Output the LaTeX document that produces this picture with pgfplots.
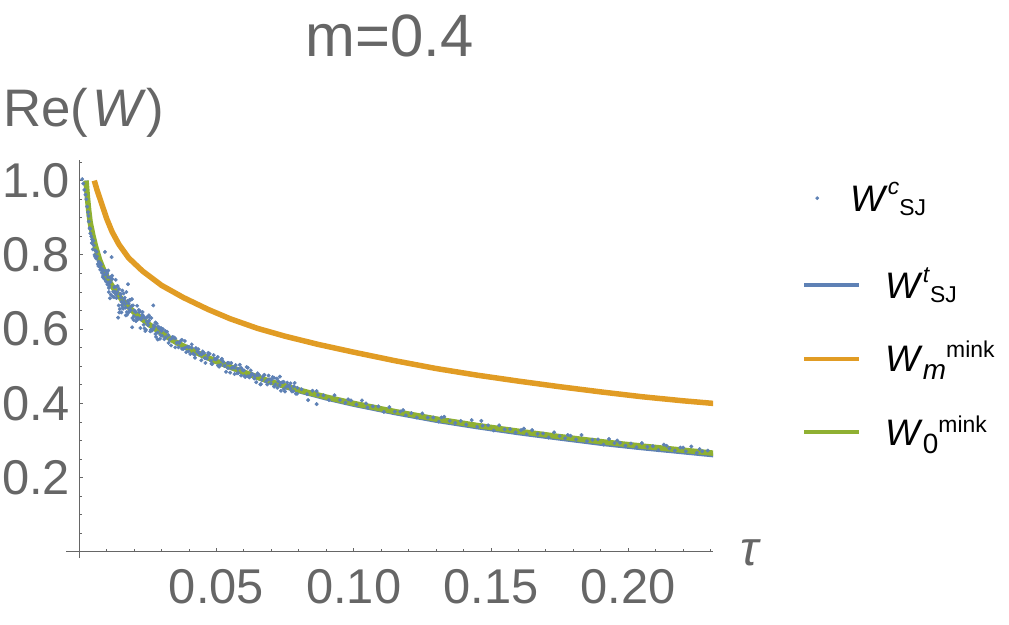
\documentclass[border=0pt]{standalone}
\usepackage{fontspec}
\setmainfont{Liberation Sans}
\usepackage{pgfplots}
\pgfplotsset{compat=1.18}
\definecolor{wblue}{RGB}{94,129,181}
\definecolor{worange}{RGB}{225,156,36}
\definecolor{wgreen}{RGB}{143,176,50}
\definecolor{labgray}{RGB}{102,102,102}
\newcommand{\rsc}[3]{\raisebox{#1}{\fontsize{#2}{#2}\selectfont #3}}
\pgfplotsset{
  lineleg/.style={legend image code/.code={\draw[##1, line width=4bp] (0bp,0bp) -- (55bp,0bp);}},
  dotleg/.style={legend image code/.code={\fill[wblue] (13bp,6.75bp) circle (1.7bp);}},
}
\begin{document}
\begin{tikzpicture}
\path[use as bounding box] (0,0) rectangle (1009bp,625bp);
\begin{axis}[
  at={(66bp,67bp)}, anchor=south west,
  scale only axis, width=647bp, height=398bp,
  xmin=-0.0048, xmax=0.2309, ymin=-0.0164, ymax=1.0556,
  axis lines=middle,
  axis line style={-, draw=labgray, line width=0.9bp},
  xtick={0.05,0.1,0.15,0.2}, xticklabels={0.05,0.10,0.15,0.20},
  ytick={0.2,0.4,0.6,0.8,1.0}, yticklabels={0.2,0.4,0.6,0.8,1.0},
  minor xtick={0.01,0.02,0.03,0.04,0.06,0.07,0.08,0.09,0.11,0.12,0.13,0.14,0.16,0.17,0.18,0.19,0.21,0.22,0.23},
  minor ytick={0.05,0.1,0.15,0.25,0.3,0.35,0.45,0.5,0.55,0.65,0.7,0.75,0.85,0.9,0.95,1.05},
  tick align=inside,
  major tick length=4bp, minor tick length=2.5bp,
  tick style={draw=labgray, line width=0.8bp},
  ticklabel style={font=\fontsize{49}{49}\selectfont, text=labgray, inner sep=0pt},
  xticklabel style={anchor=north, yshift=-17bp},
  yticklabel style={anchor=east, xshift=-9bp},
  title={m=0.4},
  title style={at={(axis description cs:0.5,1.246)}, anchor=base, font=\fontsize{60}{60}\selectfont, text=labgray, inner sep=0pt},
  ylabel={Re(\hspace{4bp}\textit{W})},
  ylabel style={at={(axis description cs:-0.0974,1.083)}, anchor=base west, rotate=0, font=\fontsize{53}{53}\selectfont, text=labgray, inner sep=0pt},
  xlabel={\textit{τ}},
  xlabel style={at={(axis description cs:1.0587,-0.02)}, anchor=base, font=\fontsize{49}{49}\selectfont, text=labgray, inner sep=0pt},
  legend cell align=left,
  legend style={at={(axis description cs:1.1376,0.9849)}, anchor=north west, draw=none, fill=none, inner sep=0pt,
    row sep=9.5bp, column sep=24bp, nodes={inner sep=0pt, text depth=, text height=}, font=\fontsize{37}{40}\selectfont},
  every axis plot/.append style={line join=round},
]
% W^c_SJ : numerical data
\addplot[color=wblue, only marks, mark=*, mark size=1.8bp, mark options={draw=none, fill=wblue}, dotleg] coordinates {
(0.0011,1.004)(0.0015,0.992)(0.0019,0.975)(0.0023,0.962)(0.0026,0.950)(0.0029,0.930)(0.0032,0.915)(0.0035,0.890)(0.0038,0.872)(0.0041,0.858)(0.0044,0.850)(0.0047,0.842)(0.0050,0.815)(0.0053,0.826)(0.0056,0.800)(0.0059,0.812)(0.0062,0.790)(0.0065,0.796)(0.0068,0.775)(0.0071,0.782)(0.0074,0.768)(0.0077,0.760)(0.0080,0.774)(0.0083,0.752)(0.0086,0.740)(0.0089,0.758)(0.0092,0.735)(0.0095,0.748)(0.0098,0.728)
(0.0034,0.905)(0.0040,0.870)(0.0046,0.832)(0.0052,0.838)(0.0058,0.795)(0.0064,0.808)(0.0070,0.770)(0.0076,0.778)(0.0082,0.763)(0.0088,0.745)(0.0094,0.808)(0.0097,0.757)
(0.0100,0.749)(0.0103,0.720)(0.0106,0.758)(0.0109,0.726)(0.0112,0.739)(0.0115,0.693)(0.0118,0.794)(0.0121,0.735)(0.0124,0.701)(0.0127,0.686)(0.0130,0.714)(0.0133,0.733)(0.0136,0.684)(0.0139,0.700)(0.0142,0.631)(0.0145,0.708)(0.0148,0.654)(0.0151,0.695)(0.0154,0.674)(0.0157,0.704)(0.0160,0.655)(0.0163,0.673)(0.0166,0.685)(0.0169,0.658)(0.0172,0.700)(0.0175,0.639)(0.0178,0.721)(0.0181,0.646)(0.0184,0.679)(0.0187,0.652)(0.0190,0.662)(0.0193,0.605)(0.0196,0.664)(0.0199,0.635)
(0.0203,0.648)(0.0207,0.622)(0.0211,0.663)(0.0215,0.630)(0.0219,0.646)(0.0223,0.603)(0.0227,0.631)(0.0231,0.646)(0.0235,0.612)(0.0239,0.630)(0.0243,0.598)(0.0247,0.632)(0.0251,0.611)(0.0255,0.623)(0.0259,0.594)(0.0263,0.630)(0.0267,0.598)(0.0270,0.664)(0.0274,0.606)(0.0278,0.587)(0.0282,0.615)(0.0286,0.591)(0.0290,0.603)(0.0294,0.574)(0.0298,0.603)
(0.0104,0.740)(0.0110,0.717)(0.0116,0.737)(0.0122,0.688)(0.0128,0.713)(0.0134,0.693)(0.0140,0.716)(0.0146,0.645)(0.0152,0.685)(0.0158,0.660)(0.0164,0.681)(0.0170,0.637)(0.0176,0.676)(0.0182,0.656)(0.0188,0.679)(0.0194,0.630)(0.0201,0.650)(0.0209,0.630)(0.0217,0.652)(0.0225,0.626)(0.0233,0.636)(0.0241,0.595)(0.0249,0.618)(0.0257,0.631)(0.0265,0.596)(0.0272,0.610)(0.0280,0.579)(0.0288,0.607)(0.0296,0.584)
(0.0102,0.751)(0.0108,0.711)(0.0114,0.727)(0.0120,0.744)(0.0126,0.700)(0.0132,0.700)(0.0138,0.715)(0.0144,0.664)(0.0150,0.693)(0.0156,0.665)(0.0162,0.696)(0.0168,0.668)(0.0174,0.646)(0.0180,0.670)(0.0186,0.650)(0.0192,0.681)(0.0198,0.625)(0.0206,0.646)(0.0214,0.626)(0.0222,0.648)(0.0230,0.639)(0.0238,0.602)(0.0246,0.621)(0.0254,0.637)(0.0262,0.599)(0.0270,0.601)(0.0278,0.618)(0.0286,0.572)(0.0294,0.600)
(0.0108,0.700)(0.0112,0.683)(0.0154,0.645)
(0.030,0.595)(0.031,0.573)(0.032,0.593)(0.033,0.572)(0.034,0.579)(0.035,0.551)(0.036,0.564)(0.037,0.569)(0.038,0.547)(0.039,0.538)(0.040,0.552)(0.041,0.559)(0.042,0.531)(0.043,0.540)(0.044,0.532)(0.045,0.540)(0.046,0.509)(0.047,0.530)(0.048,0.515)(0.049,0.530)
(0.050,0.519)(0.051,0.499)(0.052,0.520)(0.053,0.501)(0.054,0.509)(0.055,0.483)(0.056,0.497)(0.057,0.503)(0.058,0.482)(0.059,0.475)(0.060,0.489)(0.061,0.498)(0.062,0.470)(0.063,0.480)(0.064,0.473)(0.065,0.481)(0.066,0.451)(0.067,0.473)(0.068,0.459)(0.069,0.475)
(0.070,0.464)(0.071,0.445)(0.072,0.467)(0.073,0.449)(0.074,0.457)(0.075,0.432)(0.076,0.447)(0.077,0.454)(0.078,0.433)(0.079,0.426)
(0.0305,0.600)(0.0315,0.578)(0.0325,0.584)(0.0335,0.556)(0.0345,0.578)(0.0355,0.563)(0.0365,0.563)(0.0375,0.547)(0.0385,0.568)(0.0395,0.553)(0.0405,0.533)(0.0415,0.534)(0.0425,0.549)(0.0435,0.537)(0.0445,0.516)(0.0455,0.536)(0.0465,0.521)(0.0475,0.534)(0.0485,0.506)(0.0495,0.520)
(0.0505,0.525)(0.0515,0.504)(0.0525,0.512)(0.0535,0.485)(0.0545,0.509)(0.0555,0.495)(0.0565,0.496)(0.0575,0.481)(0.0585,0.504)(0.0595,0.490)(0.0605,0.471)(0.0615,0.473)(0.0625,0.489)(0.0635,0.477)(0.0645,0.457)(0.0655,0.477)(0.0665,0.464)(0.0675,0.477)(0.0685,0.451)(0.0695,0.465)
(0.0705,0.471)(0.0715,0.451)(0.0725,0.460)(0.0735,0.434)(0.0745,0.458)(0.0755,0.445)(0.0765,0.447)(0.0775,0.432)(0.0785,0.455)(0.0795,0.442)
(0.0302,0.582)(0.0314,0.595)(0.0326,0.563)(0.0338,0.575)(0.0350,0.575)(0.0362,0.551)(0.0374,0.571)(0.0386,0.550)(0.0398,0.540)(0.0410,0.550)(0.0422,0.523)(0.0434,0.546)(0.0446,0.532)(0.0458,0.522)(0.0470,0.536)(0.0482,0.507)(0.0494,0.519)(0.0506,0.502)(0.0518,0.518)(0.0530,0.501)
(0.0542,0.495)(0.0554,0.509)(0.0566,0.479)(0.0578,0.493)(0.0590,0.496)(0.0602,0.474)(0.0614,0.496)(0.0626,0.476)(0.0638,0.467)(0.0650,0.477)(0.0662,0.452)(0.0674,0.476)(0.0686,0.463)(0.0698,0.454)(0.0710,0.469)(0.0722,0.442)(0.0734,0.455)(0.0746,0.439)(0.0758,0.456)(0.0770,0.440)(0.0782,0.446)(0.0794,0.426)
(0.0731,0.472)(0.0865,0.398)(0.0834,0.409)
(0.081,0.438)(0.083,0.425)(0.085,0.434)(0.087,0.423)(0.089,0.422)(0.091,0.409)(0.093,0.422)(0.095,0.409)(0.097,0.402)(0.099,0.408)
(0.101,0.397)(0.103,0.408)(0.105,0.389)(0.107,0.392)(0.109,0.392)(0.111,0.377)(0.113,0.390)(0.115,0.378)(0.117,0.378)(0.119,0.368)
(0.121,0.374)(0.123,0.362)(0.125,0.373)(0.127,0.362)(0.129,0.362)(0.131,0.351)(0.133,0.364)(0.135,0.353)(0.137,0.347)(0.139,0.353)
(0.141,0.343)(0.143,0.355)(0.145,0.337)(0.147,0.340)(0.149,0.341)(0.151,0.327)(0.153,0.341)(0.155,0.330)(0.157,0.331)(0.159,0.322)
(0.161,0.328)(0.163,0.317)(0.165,0.328)(0.167,0.318)(0.169,0.319)(0.171,0.308)(0.173,0.322)(0.175,0.312)(0.177,0.306)(0.179,0.313)
(0.181,0.303)(0.183,0.315)(0.185,0.298)(0.187,0.302)(0.189,0.303)(0.191,0.289)(0.193,0.304)(0.195,0.293)(0.197,0.294)(0.199,0.286)
(0.201,0.292)(0.203,0.282)(0.205,0.293)(0.207,0.283)(0.209,0.285)(0.211,0.274)(0.213,0.289)(0.215,0.279)(0.217,0.273)(0.219,0.281)
(0.221,0.271)(0.223,0.284)(0.225,0.267)(0.227,0.271)(0.229,0.273)
(0.0865,0.433)(0.098,0.411)(0.1045,0.400)(0.118,0.382)(0.132,0.362)(0.1465,0.353)(0.162,0.332)(0.178,0.315)(0.196,0.300)(0.214,0.286)(0.220,0.281)(0.226,0.277)
};
\addlegendentry{\rule[-32.5bp]{0pt}{77.5bp}\hspace{-35bp}\textit{W}\rsc{17bp}{23}{\textit{c}}\rsc{-4bp}{23}{SJ}}
% W^t_SJ
\addplot[wblue, line width=4bp, lineleg] coordinates {
(0.0025,1.000)(0.0030,0.955)(0.0035,0.918)(0.0040,0.888)(0.0050,0.852)(0.0060,0.822)(0.0075,0.785)(0.0090,0.758)(0.0110,0.728)(0.0130,0.705)(0.0160,0.675)(0.0200,0.645)(0.0250,0.6145)(0.0300,0.588)(0.0350,0.5645)(0.0400,0.545)(0.0450,0.527)(0.0500,0.511)(0.0600,0.4815)(0.0700,0.455)(0.0800,0.4325)(0.0900,0.413)(0.1000,0.396)(0.1150,0.3735)(0.1300,0.353)(0.1450,0.3355)(0.1600,0.3195)(0.1750,0.305)(0.1900,0.291)(0.2050,0.279)(0.2200,0.268)(0.2310,0.260)
};
\addlegendentry{\rule[-19bp]{0pt}{64bp}\textit{W}\rsc{16bp}{23}{\textit{t}}\rsc{-4bp}{23}{SJ}}
% W_m^mink
\addplot[worange, line width=5.5bp, lineleg] coordinates {
(0.0055,1.000)(0.0065,0.975)(0.0080,0.942)(0.0100,0.898)(0.0120,0.862)(0.0145,0.828)(0.0180,0.792)(0.0230,0.757)(0.0300,0.718)(0.0380,0.685)(0.0470,0.653)(0.0550,0.628)(0.0650,0.602)(0.0750,0.581)(0.0870,0.559)(0.1000,0.538)(0.1150,0.515)(0.1300,0.494)(0.1450,0.476)(0.1600,0.460)(0.1750,0.445)(0.1900,0.431)(0.2050,0.418)(0.2200,0.407)(0.2310,0.400)
};
\addlegendentry{\rule[-19bp]{0pt}{64bp}\textit{W}\rsc{-8bp}{28}{\textit{m}}\rsc{14bp}{23}{mink}}
% W_0^mink
\addplot[wgreen, line width=5.5bp, lineleg] coordinates {
(0.0025,1.000)(0.0030,0.955)(0.0035,0.918)(0.0040,0.888)(0.0050,0.852)(0.0060,0.822)(0.0075,0.785)(0.0090,0.758)(0.0110,0.728)(0.0130,0.705)(0.0160,0.675)(0.0200,0.645)(0.0250,0.615)(0.0300,0.589)(0.0350,0.566)(0.0400,0.547)(0.0450,0.5295)(0.0500,0.513)(0.0600,0.484)(0.0700,0.458)(0.0800,0.436)(0.0900,0.417)(0.1000,0.400)(0.1150,0.378)(0.1300,0.358)(0.1450,0.3405)(0.1600,0.325)(0.1750,0.3105)(0.1900,0.297)(0.2050,0.285)(0.2200,0.274)(0.2310,0.266)
};
\addlegendentry{\rule[-19bp]{0pt}{64bp}\textit{W}\rsc{-8bp}{28}{0}\rsc{13bp}{23}{mink}}
\end{axis}
\end{tikzpicture}
\end{document}
